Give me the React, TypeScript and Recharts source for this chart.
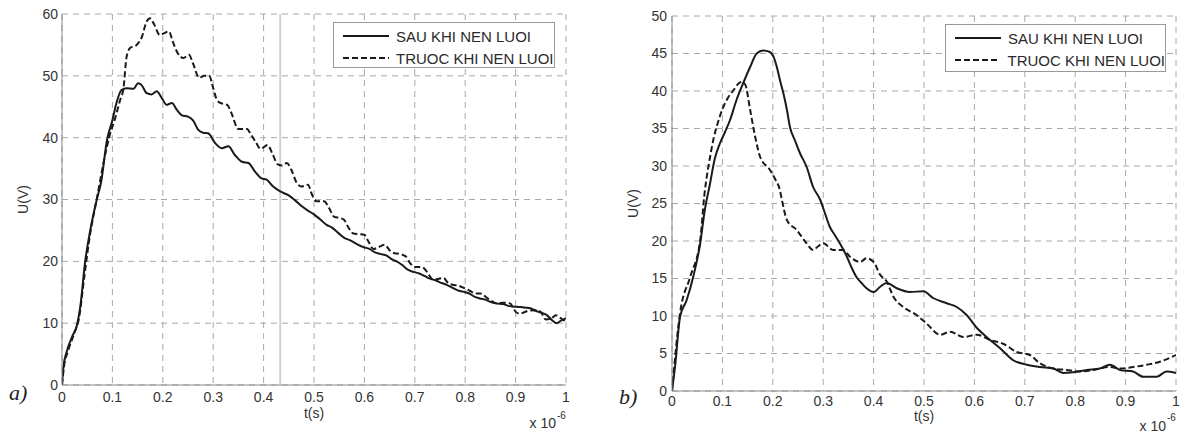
import React from 'react';
import { LineChart, Line, XAxis, YAxis, CartesianGrid, Legend, ReferenceLine } from 'recharts';

// ---------- data ----------
const tTicks = [0, 0.1, 0.2, 0.3, 0.4, 0.5, 0.6, 0.7, 0.8, 0.9, 1];
const aUTicks = [0, 10, 20, 30, 40, 50, 60];
const bUTicks = [0, 5, 10, 15, 20, 25, 30, 35, 40, 45, 50];
const seriesNames = ['SAU KHI NEN LUOI', 'TRUOC KHI NEN LUOI'];
const xLabel = 't(s)';
const yLabel = 'U(V)';
const xScaleNote = 'x 10';
const xScaleExp = '-6';
const panelNames = ['a)', 'b)'];
const scanFoldT = 0.433;

// chart a) — after (solid)
const aSauT = [0, 0.003, 0.009, 0.02, 0.03, 0.036, 0.046, 0.056, 0.069, 0.078, 0.089, 0.1, 0.108, 0.118, 0.128, 0.142, 0.151, 0.158, 0.168, 0.178, 0.188, 0.198, 0.208, 0.218, 0.228, 0.238, 0.25, 0.26, 0.27, 0.28, 0.29, 0.304, 0.317, 0.33, 0.343, 0.357, 0.37, 0.383, 0.396, 0.406, 0.419, 0.433, 0.449, 0.462, 0.476, 0.488, 0.5, 0.512, 0.525, 0.535, 0.548, 0.56, 0.572, 0.585, 0.598, 0.61, 0.62, 0.631, 0.645, 0.655, 0.664, 0.675, 0.687, 0.697, 0.71, 0.72, 0.73, 0.742, 0.753, 0.763, 0.775, 0.785, 0.796, 0.808, 0.818, 0.829, 0.84, 0.851, 0.862, 0.875, 0.885, 0.895, 0.91, 0.92, 0.929, 0.94, 0.95, 0.962, 0.972, 0.981, 0.99, 1.0];
const aSauU = [0, 3, 5.3, 7.8, 9.8, 12.5, 20, 25, 30, 33, 39.5, 42.8, 45.6, 47.7, 48, 47.9, 48.8, 48.5, 47.2, 47, 47.5, 46.4, 45.3, 45.6, 44.5, 43.6, 43.4, 42.8, 41.3, 40.8, 40.7, 39.1, 38.3, 38.6, 37.2, 36.1, 35.9, 34.5, 33.4, 33.2, 32.1, 31.3, 30.7, 29.9, 28.9, 28.2, 27.6, 26.8, 25.9, 25.5, 24.6, 23.8, 23.4, 22.8, 22.3, 22, 21.5, 21.2, 20.9, 20.3, 20, 19.4, 18.6, 18.3, 18, 17.6, 17.2, 16.9, 16.5, 16.2, 15.7, 15.3, 15.1, 14.8, 14.3, 14, 13.8, 13.4, 13.2, 13.1, 12.8, 12.7, 12.6, 12.5, 12.4, 12, 11.7, 11.3, 10.5, 10, 10.4, 10.8];

// chart a) — before (dashed)
const aTruocT = [0, 0.004, 0.012, 0.025, 0.033, 0.045, 0.055, 0.07, 0.085, 0.095, 0.105, 0.115, 0.122, 0.128, 0.135, 0.148, 0.158, 0.168, 0.175, 0.183, 0.194, 0.203, 0.212, 0.22, 0.23, 0.241, 0.252, 0.26, 0.272, 0.282, 0.292, 0.3, 0.308, 0.318, 0.328, 0.336, 0.35, 0.36, 0.367, 0.375, 0.385, 0.394, 0.408, 0.418, 0.428, 0.437, 0.446, 0.455, 0.465, 0.475, 0.488, 0.496, 0.505, 0.52, 0.53, 0.54, 0.552, 0.56, 0.568, 0.578, 0.588, 0.6, 0.608, 0.618, 0.628, 0.64, 0.65, 0.66, 0.67, 0.682, 0.69, 0.7, 0.71, 0.718, 0.728, 0.737, 0.748, 0.757, 0.765, 0.775, 0.785, 0.8, 0.81, 0.82, 0.83, 0.843, 0.852, 0.862, 0.875, 0.889, 0.897, 0.904, 0.915, 0.925, 0.94, 0.95, 0.96, 0.97, 0.98, 0.99, 1.0];
const aTruocU = [0, 3, 5.5, 8.5, 10.5, 18, 24, 30.5, 37, 40.5, 43, 46, 48, 53, 54.5, 55, 56.2, 58.8, 59.3, 58.3, 56.6, 56.9, 57.2, 55.5, 53.6, 52.9, 53.4, 52, 49.7, 50, 50, 48, 46, 45.5, 45.3, 44, 41.4, 41.4, 41.4, 40.5, 39.2, 38.2, 38.8, 37.3, 35.7, 35.5, 35.9, 34.8, 32.8, 32.1, 32.4, 30.8, 29.7, 29.7, 28.6, 27.2, 27, 26.7, 25.5, 24.5, 24.4, 24.3, 23.2, 22, 22.3, 22.7, 21.8, 21.3, 21.2, 20.8, 19.8, 19.1, 19.1, 18.9, 17.8, 17, 17.2, 17.3, 16.6, 16.2, 16.1, 15.6, 15.2, 14.8, 14.8, 14.1, 13.6, 13.2, 13.3, 13.2, 12.2, 11.6, 11.7, 12, 12.1, 11.8, 10.6, 10.7, 11.3, 10.8, 10.2];

// chart b) — after (solid)
const bSauT = [0, 0.006, 0.016, 0.029, 0.042, 0.056, 0.065, 0.075, 0.085, 0.095, 0.105, 0.115, 0.128, 0.141, 0.155, 0.168, 0.181, 0.194, 0.203, 0.208, 0.214, 0.221, 0.228, 0.234, 0.244, 0.254, 0.267, 0.28, 0.294, 0.303, 0.313, 0.323, 0.333, 0.347, 0.356, 0.366, 0.376, 0.386, 0.4, 0.413, 0.426, 0.446, 0.472, 0.499, 0.518, 0.545, 0.565, 0.585, 0.605, 0.624, 0.651, 0.677, 0.704, 0.73, 0.757, 0.776, 0.796, 0.823, 0.849, 0.869, 0.889, 0.915, 0.935, 0.962, 0.981, 1.0];
const bSauU = [0, 3.2, 9.9, 12.1, 15.2, 19.7, 24.1, 27.5, 31, 33, 34.5, 36.1, 38.8, 41, 43.2, 45, 45.4, 45.2, 44.3, 43.2, 41.5, 39.7, 37.5, 35.2, 33.4, 31.7, 29.9, 27.2, 25.5, 23.8, 21.9, 20.8, 19.7, 17.9, 16.5, 15.2, 14.4, 13.7, 13.2, 13.9, 14.4, 13.7, 13.2, 13.3, 12.4, 11.7, 11.2, 10.1, 8.4, 7.2, 5.7, 4.1, 3.5, 3.2, 3, 2.4, 2.5, 2.8, 3, 3.5, 2.8, 2.6, 1.9, 1.9, 2.6, 2.4];

// chart b) — before (dashed)
const bTruocT = [0, 0.016, 0.036, 0.056, 0.064, 0.075, 0.082, 0.092, 0.102, 0.112, 0.122, 0.132, 0.138, 0.145, 0.155, 0.165, 0.175, 0.194, 0.205, 0.214, 0.218, 0.228, 0.247, 0.267, 0.28, 0.29, 0.3, 0.32, 0.34, 0.353, 0.373, 0.386, 0.4, 0.413, 0.426, 0.439, 0.459, 0.486, 0.505, 0.532, 0.552, 0.578, 0.605, 0.631, 0.657, 0.684, 0.71, 0.73, 0.757, 0.783, 0.81, 0.836, 0.869, 0.889, 0.915, 0.942, 0.968, 1.0];
const bTruocU = [0, 10.4, 15.2, 20.1, 26, 31, 33.5, 36, 37.9, 39.2, 40.1, 41, 41.2, 40.9, 37.5, 33.9, 31.2, 29.5, 28.2, 26.8, 25.5, 22.8, 21.5, 19.7, 18.8, 19.3, 19.7, 18.8, 18.8, 17.9, 17.2, 17.7, 17.2, 15.5, 14.6, 12.6, 11.2, 10.1, 9, 7.5, 7.9, 7.2, 7.5, 6.8, 6.3, 5.2, 4.8, 3.7, 3, 2.8, 2.6, 2.8, 3.2, 3, 3.2, 3.5, 3.9, 4.8];

// ---------- helpers ----------
const zip = (t: number[], u: number[]) => t.map((x, i) => ({ t: x, u: u[i] }));
const FONT = '"Liberation Sans", Arial, Helvetica, sans-serif';
const INK = '#1a1a1a';
const TEXT = '#333';
const GRID = '#a8a8a8';
const DASH = '6 3';
const lineStyles = [{ dash: undefined as string | undefined }, { dash: DASH }];

const LegendBox = () => (
  <div
    style={{
      width: '100%',
      height: '100%',
      boxSizing: 'border-box',
      border: '1px solid #9a9a9a',
      background: '#fff',
      fontFamily: FONT,
      fontSize: 15,
      color: '#2a2a2a',
      paddingTop: 2,
      paddingLeft: 9,
    }}
  >
    {seriesNames.map((name, i) => (
      <div key={name} style={{ height: 22, display: 'flex', alignItems: 'center', whiteSpace: 'nowrap' }}>
        <svg width={46} height={6} style={{ marginRight: 7 }}>
          <line x1={0} y1={3} x2={46} y2={3} stroke={INK} strokeWidth={2} strokeDasharray={lineStyles[i].dash} />
        </svg>
        <span>{name}</span>
      </div>
    ))}
  </div>
);

const makeYTitle = () => (props: any) => {
  const vb = props && props.viewBox ? props.viewBox : { x: 0, y: 0, width: 40, height: 300 };
  const cx = vb.x + vb.width - 39;
  const cy = vb.y + vb.height / 2;
  return (
    <text
      x={cx}
      y={cy}
      transform={`rotate(-90, ${cx}, ${cy})`}
      textAnchor="middle"
      dominantBaseline="central"
      fontFamily={FONT}
      fontSize={14}
      fill={TEXT}
    >
      {yLabel}
    </text>
  );
};

const makeXTitle = (titleDy: number, noteDy: number, expDy: number) => (props: any) => {
  const vb = props && props.viewBox ? props.viewBox : { x: 0, y: 0, width: 500, height: 40 };
  const cx = vb.x + vb.width / 2;
  const right = vb.x + vb.width;
  return (
    <g>
      <text x={cx} y={vb.y + titleDy} textAnchor="middle" dominantBaseline="central" fontFamily={FONT} fontSize={14} fill={TEXT}>
        {xLabel}
      </text>
      <text x={right - 10} y={vb.y + noteDy} textAnchor="end" dominantBaseline="central" fontFamily={FONT} fontSize={14} fill={TEXT}>
        {xScaleNote}
      </text>
      <text x={right - 9} y={vb.y + expDy} textAnchor="start" dominantBaseline="central" fontFamily={FONT} fontSize={10} fill={TEXT}>
        {xScaleExp}
      </text>
    </g>
  );
};

type PanelProps = {
  left: number;
  width: number;
  margin: { top: number; right: number; bottom: number; left: number };
  sau: { t: number; u: number }[];
  truoc: { t: number; u: number }[];
  uTicks: number[];
  legendPos: { left: number; top: number; width: number; height: number };
  xTickSize: number;
  yTickSize: number;
  titleDys: [number, number, number];
  fold?: number;
};

const Panel = ({ left, width, margin, sau, truoc, uTicks, legendPos, xTickSize, yTickSize, titleDys, fold }: PanelProps) => (
  <div style={{ position: 'absolute', left, top: 0 }}>
    <LineChart width={width} height={435} margin={margin}>
      <CartesianGrid stroke={GRID} strokeDasharray="6 5" strokeWidth={1} />
      <XAxis
        type="number"
        dataKey="t"
        domain={[0, 1]}
        ticks={tTicks}
        interval={0}
        allowDataOverflow
        height={40}
        tickLine={false}
        tickSize={xTickSize}
        tickMargin={2}
        axisLine={{ stroke: '#8a8a8a', strokeWidth: 1 }}
        tick={{ fontSize: 14, fill: TEXT, fontFamily: FONT }}
        tickFormatter={(v: number) => String(v)}
        label={makeXTitle(titleDys[0], titleDys[1], titleDys[2])}
      />
      <YAxis
        type="number"
        domain={[uTicks[0], uTicks[uTicks.length - 1]]}
        ticks={uTicks}
        interval={0}
        allowDataOverflow
        width={40}
        tickLine={false}
        tickSize={yTickSize}
        tickMargin={2}
        axisLine={{ stroke: '#8a8a8a', strokeWidth: 1 }}
        tick={{ fontSize: 14, fill: TEXT, fontFamily: FONT }}
        label={makeYTitle()}
      />
      {fold !== undefined && <ReferenceLine x={fold} stroke="#d0d0d0" strokeWidth={2} />}
      <Line
        data={truoc}
        dataKey="u"
        name={seriesNames[1]}
        type="monotone"
        stroke={INK}
        strokeWidth={2}
        strokeDasharray={DASH}
        dot={false}
        activeDot={false}
        isAnimationActive={false}
      />
      <Line
        data={sau}
        dataKey="u"
        name={seriesNames[0]}
        type="monotone"
        stroke={INK}
        strokeWidth={2}
        dot={false}
        activeDot={false}
        isAnimationActive={false}
      />
      <Legend
        layout="horizontal"
        verticalAlign="middle"
        align="center"
        content={() => <LegendBox />}
        wrapperStyle={{ position: 'absolute', ...legendPos }}
      />
    </LineChart>
  </div>
);

export default function App() {
  return (
    <div style={{ position: 'absolute', left: 0, top: 0, width: 1181, height: 435, background: '#fff', overflow: 'hidden' }}>
      <Panel
        left={0}
        width={590}
        margin={{ top: 14, right: 24, bottom: 10, left: 22 }}
        sau={zip(aSauT, aSauU)}
        truoc={zip(aTruocT, aTruocU)}
        uTicks={aUTicks}
        legendPos={{ left: 333, top: 22, width: 222, height: 46 }}
        xTickSize={5}
        yTickSize={2}
        titleDys={[28, 38, 30]}
        fold={scanFoldT}
      />
      <Panel
        left={590}
        width={591}
        margin={{ top: 16, right: 5, bottom: 4, left: 42 }}
        sau={zip(bSauT, bSauU)}
        truoc={zip(bTruocT, bTruocU)}
        uTicks={bUTicks}
        legendPos={{ left: 355, top: 24, width: 221, height: 48 }}
        xTickSize={3}
        yTickSize={3}
        titleDys={[25, 35, 26]}
      />
      <div style={{ position: 'absolute', left: 9, top: 380, fontFamily: '"Liberation Serif", "Times New Roman", serif', fontStyle: 'italic', fontSize: 22, color: '#222', lineHeight: '26px' }}>
        {panelNames[0]}
      </div>
      <div style={{ position: 'absolute', left: 619, top: 384, fontFamily: '"Liberation Serif", "Times New Roman", serif', fontStyle: 'italic', fontSize: 22, color: '#222', lineHeight: '26px' }}>
        {panelNames[1]}
      </div>
    </div>
  );
}
